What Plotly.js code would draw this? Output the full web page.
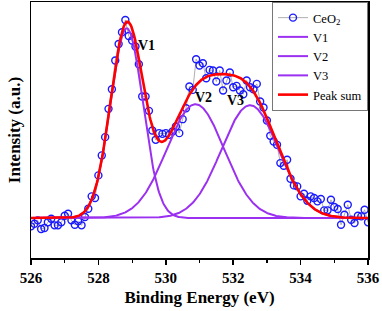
<!DOCTYPE html>
<html>
<head>
<meta charset="utf-8">
<script src="https://cdn.plot.ly/plotly-3.0.1.min.js"></script>
<style>html,body{margin:0;padding:0;background:#fff;}#chart{width:382px;height:311px;}</style>
</head>
<body>
<div id="chart"></div>
<script>
// Measured XPS data (binding energy, eV) and intensity (a.u.)
const energyStart = 526.0;
const energyStep = 0.1;
const intensity = [
  -8.3, -5.7, -2.3, -11.0, -10.0, -4.3, -0.7, -7.3, -7.3, -4.3,
  2.3, 4.3, -2.3, -6.7, -3.3, -7.3, 1.0, 9.3, 21.7, 20.0,
  42.7, 62.7, 81.0, 109.3, 129.0, 157.7, 174.3, 186.0, 198.3, 182.3,
  177.7, 171.7, 154.0, 121.7, 121.7, 107.3, 87.7, 78.3, 85.0, 84.3,
  85.0, 83.3, 86.7, 91.7, 85.0, 99.0, 110.0, 131.7, 128.3, 159.0,
  152.7, 155.0, 140.0, 148.3, 147.7, 136.7, 147.7, 127.7, 137.7, 145.7,
  131.0, 132.3, 127.7, 124.0, 137.7, 131.0, 129.0, 134.3, 116.7, 110.7,
  97.7, 82.3, 76.7, 73.3, 55.0, 52.3, 58.3, 39.3, 32.7, 31.7,
  21.7, 24.3, 17.3, 21.7, 20.0, 16.7, 19.0, 7.7, 7.7, 18.3,
  11.0, 9.0, -6.7, 3.3, 13.3, -1.7, -5.0, 2.3, 1.7, 8.3,
  -4.3
];
const energy = intensity.map((_, i) => +(energyStart + i * energyStep).toFixed(2));

// Fitted peak components
const peakNames = ['V1', 'V2', 'V3'];
const peakCenters = [528.84, 530.88, 532.50];
const peakHeights = [190, 114, 113];
const peakSigmas = [0.48, 0.85, 0.85];

// Evaluate fit on a fine grid
const fitX = [];
for (let i = 0; i <= 500; i++) fitX.push(526 + i * 0.02);
const comps = peakCenters.map((c, k) => fitX.map(x => peakHeights[k] * Math.exp(-((x - c) ** 2) / (2 * peakSigmas[k] ** 2))));
const sum = fitX.map((_, i) => comps.reduce((s, arr) => s + arr[i], 0));

const serif = 'Liberation Serif, Times New Roman, serif';
const purple = '#9b30f0';

const traces = [
  {x: energy, y: intensity, name: 'CeO<sub>2</sub>', mode: 'lines+markers', type: 'scatter',
   line: {color: '#9a9a9a', width: 0.8},
   marker: {symbol: 'circle-open', color: '#1a1aff', size: 7, line: {width: 1.4, color: '#1a1aff'}}},
];
peakNames.forEach((n, k) => traces.push({x: fitX, y: comps[k], name: n, mode: 'lines', type: 'scatter',
  line: {color: purple, width: 2}}));
traces.push({x: fitX, y: sum, name: 'Peak sum', mode: 'lines', type: 'scatter', line: {color: '#ff0000', width: 2.6}});

const labelPos = [[529.42, 173], [531.12, 121], [532.08, 118]];
const annotations = peakNames.map((n, k) => ({x: labelPos[k][0], y: labelPos[k][1], xref: 'x', yref: 'y',
  text: '<b>' + n + '</b>', showarrow: false, font: {family: serif, size: 14, color: '#000'}}));

const layout = {
  width: 382, height: 311,
  margin: {l: 31, r: 14, t: 2, b: 53},
  paper_bgcolor: '#fff', plot_bgcolor: '#fff',
  font: {family: serif, color: '#000'},
  showlegend: true,
  legend: {x: 1, xanchor: 'right', y: 1, yanchor: 'top', bgcolor: '#fff', bordercolor: '#777', borderwidth: 1,
    font: {family: serif, size: 12.5, color: '#000'}, itemwidth: 30, tracegroupgap: 0},
  xaxis: {range: [526, 536], dtick: 2, tick0: 526, ticks: 'outside', ticklen: 5, tickwidth: 1.5, tickcolor: '#000',
    minor: {dtick: 1, ticks: 'outside', ticklen: 3, tickwidth: 1.2, tickcolor: '#000'},
    showline: true, linecolor: '#000', linewidth: 1.5, mirror: true, showgrid: false, zeroline: false,
    tickfont: {family: serif, size: 15, color: '#000', weight: 'bold'},
    title: {text: '<b>Binding Energy (eV)</b>', font: {family: serif, size: 17, color: '#000'}, standoff: 6}},
  yaxis: {range: [-40, 216.3], showticklabels: false, ticks: '', showline: true, linecolor: '#000', linewidth: 1.5,
    mirror: true, showgrid: false, zeroline: false,
    title: {text: '<b>Intensity (a.u.)</b>', font: {family: serif, size: 17, color: '#000'}, standoff: 4}},
  annotations: annotations
};

Plotly.newPlot('chart', traces, layout, {displayModeBar: false, staticPlot: true});
</script>
</body>
</html>
